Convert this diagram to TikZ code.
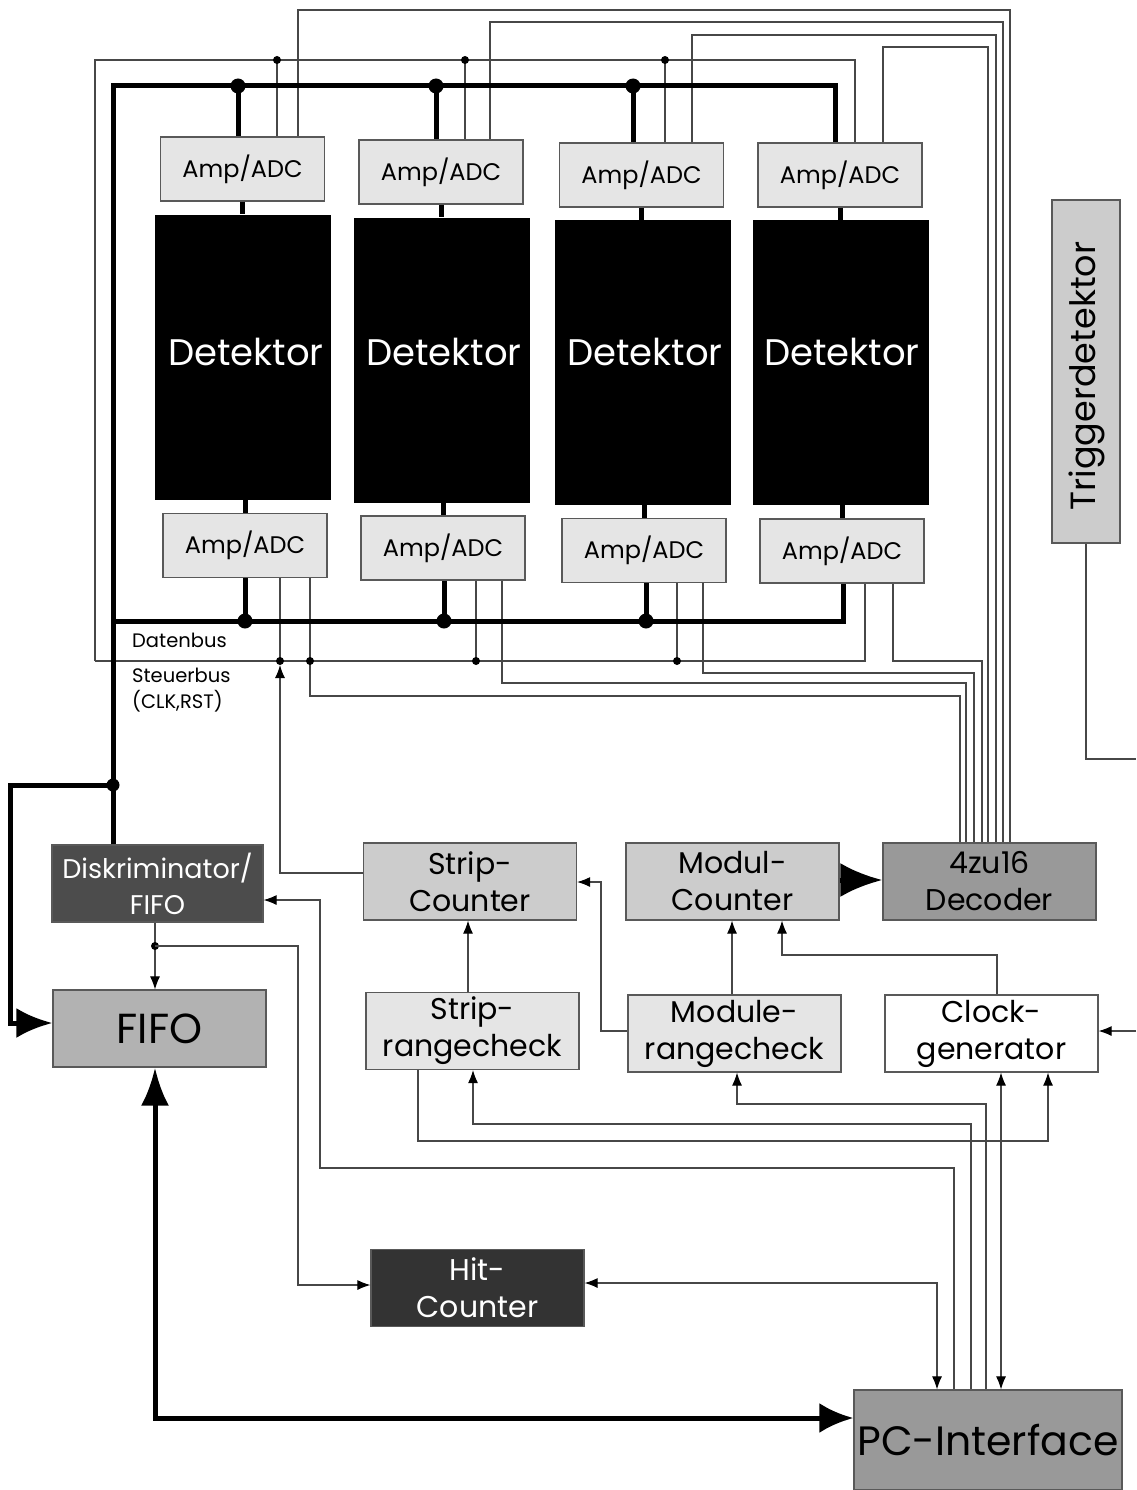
\documentclass[tikz,border=0pt]{standalone}
\usepackage{fontspec}
\setmainfont{Poppins}
\usetikzlibrary{arrows.meta}
\begin{document}
\begin{tikzpicture}[x=1pt,y=-1pt,
  blk/.style={draw=black!65, line width=1.2pt, inner sep=0pt, align=center},
  amp/.style={blk, fill=black!10, minimum width=164pt, minimum height=64pt, font=\fontsize{24}{28}\selectfont},
  det/.style={fill=black, inner sep=0pt, minimum width=176pt, minimum height=285pt},
  dettxt/.style={text=white, inner sep=0pt, font=\fontsize{37}{42}\selectfont},
  mid/.style={blk, minimum width=213pt, minimum height=77pt, font=\fontsize{30}{37}\selectfont},
  thin/.style={draw=black!72, line width=1.1pt},
  tip/.tip={Latex[length=13pt,width=10pt,color=black]},
  tarrow/.style={thin, -tip},
  bus/.style={draw=black, line width=5pt},
  lbl/.style={anchor=west, inner sep=0pt, font=\fontsize{19.5}{22}\selectfont}
]
\useasboundingbox (0,0) rectangle (1136,1490);

% ---- Amp/ADC and detectors
\node[amp] (a1) at (242.5,169) {Amp/ADC};
\node[amp] (a2) at (441,172) {Amp/ADC};
\node[amp] (a3) at (641.5,175) {Amp/ADC};
\node[amp] (a4) at (840,175) {Amp/ADC};
\node[det] (d1) at (243,357) {};
\node[det] (d2) at (441.5,360) {};
\node[det] (d3) at (642.5,362.5) {};
\node[det] (d4) at (841,362.5) {};
\node[dettxt] (t1) at (246,352) {Detektor};
\node[dettxt] (t2) at (444,352) {Detektor};
\node[dettxt] (t3) at (645,352) {Detektor};
\node[dettxt] (t4) at (842,352) {Detektor};
\node[amp] (b1) at (245,545.5) {Amp/ADC};
\node[amp] (b2) at (443,548) {Amp/ADC};
\node[amp] (b3) at (644,550.5) {Amp/ADC};
\node[amp] (b4) at (842,551) {Amp/ADC};

\draw[bus] (a1.south) -- (a1.south |- d1.north);
\draw[bus] (a2.south) -- (a2.south |- d2.north);
\draw[bus] (a3.south) -- (a3.south |- d3.north);
\draw[bus] (a4.south) -- (a4.south |- d4.north);
\draw[bus] (b1.north |- d1.south) -- (b1.north);
\draw[bus] (b2.north |- d2.south) -- (b2.north);
\draw[bus] (b3.north |- d3.south) -- (b3.north);
\draw[bus] (b4.north |- d4.south) -- (b4.north);

% ---- Trigger detector
\node[blk, fill=black!20, minimum width=68pt, minimum height=343pt] (trig) at (1086,371.5) {};
\node[rotate=90, inner sep=0pt, font=\fontsize{35}{40}\selectfont] (trigtxt) at (1087,376) {Triggerdetektor};
\coordinate (trigout) at (1136,759);

% ---- lower blocks
\node[mid, fill=black!70, text=white, minimum width=211pt, font=\fontsize{27}{36}\selectfont] (disc) at (157.5,883.5) {Diskriminator/\\FIFO};
\node[blk, fill=black!30, minimum width=213pt, minimum height=77pt, font=\fontsize{42}{46}\selectfont] (fifo) at (159.5,1028.5) {FIFO};
\node[mid, fill=black!20] (sc) at (470,881.5) {Strip-\\Counter};
\node[mid, fill=black!20] (mc) at (732.5,881.5) {Modul-\\Counter};
\node[mid, fill=black!40] (dec) at (989.5,881.5) {4zu16\\Decoder};
\node[mid, fill=black!10] (src) at (472.5,1031) {Strip-\\rangecheck};
\node[mid, fill=black!10] (mrc) at (734.5,1033.5) {Module-\\rangecheck};
\node[mid, fill=white] (clk) at (991.5,1033.5) {Clock-\\generator};
\node[mid, fill=black!80, text=white] (hit) at (477.5,1288) {Hit-\\Counter};
\node[blk, fill=black!40, minimum width=268pt, minimum height=100pt, font=\fontsize{41}{46}\selectfont] (pc) at (988,1440) {PC-Interface};
\coordinate (clkin) at (1136,1031);

% ---- labels
\node[lbl] (ldb) at (132,640) {Datenbus};
\node[lbl] (lsb) at (132,675) {Steuerbus};
\node[lbl] (lclk) at (132,701) {(CLK,RST)};

% ---- thin control wires (top)
\draw[thin] (95,661) -- (95,60) -- (855,60) -- (855,0 |- a4.north);
\draw[thin] (277,60) -- (277,0 |- a1.north);
\draw[thin] (465,60) -- (465,0 |- a2.north);
\draw[thin] (665,60) -- (665,0 |- a3.north);
\foreach \x in {277,465,665} \fill (\x,60) circle (4pt);
\draw[thin] (298,0 |- a1.north) -- (298,10) -- (1010,10) -- (1010,0 |- dec.north);
\draw[thin] (490,0 |- a2.north) -- (490,22) -- (1003,22) -- (1003,0 |- dec.north);
\draw[thin] (692,0 |- a3.north) -- (692,35) -- (996,35) -- (996,0 |- dec.north);
\draw[thin] (883,0 |- a4.north) -- (883,47) -- (988,47) -- (988,0 |- dec.north);

% ---- thin control wires (bottom)
\draw[thin] (95,661) -- (865,661) -- (865,0 |- b4.south);
\draw[thin] (280,0 |- b1.south) -- (280,661);
\draw[thin] (476,0 |- b2.south) -- (476,661);
\draw[thin] (677,0 |- b3.south) -- (677,661);
\draw[thin] (310,0 |- b1.south) -- (310,696) -- (960,696) -- (960,0 |- dec.north);
\draw[thin] (502,0 |- b2.south) -- (502,683) -- (966,683) -- (966,0 |- dec.north);
\draw[thin] (703,0 |- b3.south) -- (703,673) -- (974,673) -- (974,0 |- dec.north);
\draw[thin] (893,0 |- b4.south) -- (893,661) -- (982,661) -- (982,0 |- dec.north);
\foreach \x in {280,310,476,677} \fill (\x,661) circle (4pt);

% ---- data bus (thick)
\draw[bus] (113,0 |- disc.north) -- (113,86) -- (835,86) -- (835,0 |- a4.north);
\draw[bus] (238,86) -- (238,0 |- a1.north);
\draw[bus] (436,86) -- (436,0 |- a2.north);
\draw[bus] (633,86) -- (633,0 |- a3.north);
\foreach \x in {238,436,633} \fill (\x,86) circle (7.5pt);
\draw[bus] (113,621) -- (843,621) -- (843,0 |- b4.south);
\draw[bus] (245,621) -- (245,0 |- b1.south);
\draw[bus] (444,621) -- (444,0 |- b2.south);
\draw[bus] (646,621) -- (646,0 |- b3.south);
\foreach \x in {245,444,646} \fill (\x,621) circle (7.5pt);

% ---- trigger line
\draw[thin] (trig.south) -- (1086,759) -- (trigout);

% ---- lower connections
\draw[bus, -{Latex[length=36pt,width=30pt]}] (113,785) -- (10,785) -- (10,1023) -- (fifo.west |- 0,1023);
\fill (113,785) circle (6.5pt);
\draw[tarrow] (155,0 |- disc.south) -- (155,0 |- fifo.north);
\fill (155,946) circle (4pt);
\draw[tarrow] (155,946) -- (298,946) -- (298,1285) -- (hit.west |- 0,1285);
\draw[tarrow] (954,0 |- pc.north) -- (954,1168) -- (320,1168) -- (320,900) -- (disc.east |- 0,900);
\draw[thin, tip-tip] (hit.east |- 0,1283) -- (937,1283) -- (937,0 |- pc.north);
\draw[tarrow] (418,0 |- src.south) -- (418,1141) -- (1048,1141) -- (1048,0 |- clk.south);
\draw[tarrow] (971,0 |- pc.north) -- (971,1124) -- (473,1124) -- (473,0 |- src.south);
\draw[tarrow] (986,0 |- pc.north) -- (986,1104) -- (737,1104) -- (737,0 |- mrc.south);
\draw[thin, tip-tip] (1001,0 |- clk.south) -- (1001,0 |- pc.north);
\draw[tarrow] (468,0 |- src.north) -- (468,0 |- sc.south);
\draw[tarrow] (732,0 |- mrc.north) -- (732,0 |- mc.south);
\draw[tarrow] (997,0 |- clk.north) -- (997,955) -- (782,955) -- (782,0 |- mc.south);
\draw[tarrow] (mrc.west |- 0,1031) -- (601,1031) -- (601,882) -- (sc.east |- 0,882);
\draw[bus, -{Latex[length=42pt,width=34pt]}] (mc.east |- 0,880) -- (dec.west |- 0,880);
\draw[tarrow] (clkin) -- (clk.east |- clkin);
\draw[tarrow] (sc.west |- 0,873) -- (280,873) -- (280,665);
\draw[bus, {Latex[length=38pt,width=28pt]}-{Latex[length=34pt,width=30pt]}] (155,0 |- fifo.south) -- (155,1418) -- (pc.west |- 0,1418);
\end{tikzpicture}
\end{document}
